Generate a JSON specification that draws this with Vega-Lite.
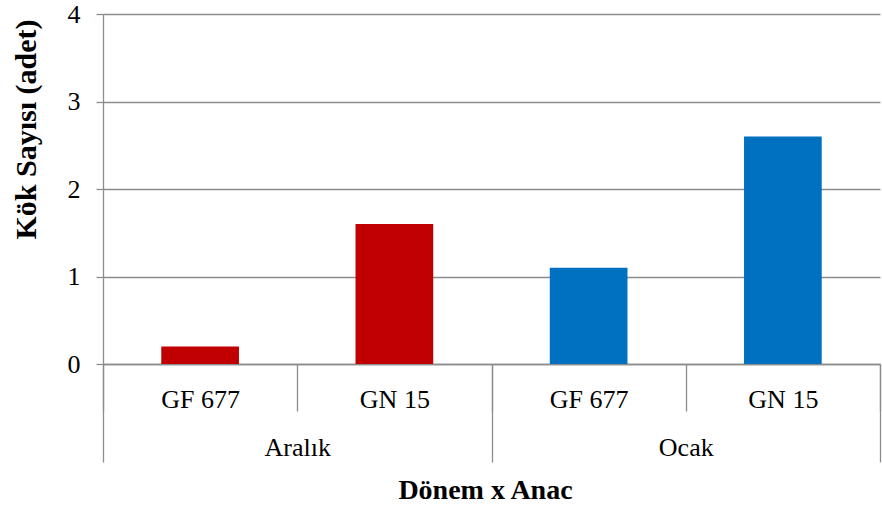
{
  "$schema": "https://vega.github.io/schema/vega-lite/v6.json",
  "width": 777,
  "height": 350,
  "autosize": {"type": "none"},
  "padding": {"left": 103, "top": 14, "right": 2, "bottom": 144},
  "background": "white",
  "config": {"view": {"stroke": null}, "font": "Liberation Serif"},
  "data": {
    "values": [
      {"donem": "Aralık", "anac": "GF 677", "key": "Aralık|GF 677", "value": 0.2},
      {"donem": "Aralık", "anac": "GN 15", "key": "Aralık|GN 15", "value": 1.6},
      {"donem": "Ocak", "anac": "GF 677", "key": "Ocak|GF 677", "value": 1.1},
      {"donem": "Ocak", "anac": "GN 15", "key": "Ocak|GN 15", "value": 2.6}
    ]
  },
  "layer": [
    {
      "mark": {"type": "bar", "width": {"band": 0.4}},
      "encoding": {
        "x": {
          "field": "key",
          "type": "nominal",
          "sort": null,
          "scale": {"paddingInner": 0, "paddingOuter": 0},
          "axis": {
            "orient": "bottom",
            "title": null,
            "labelExpr": "split(datum.label, '|')[1]",
            "labelAngle": 0,
            "labelFont": "Liberation Serif",
            "labelFontSize": 26,
            "labelColor": "black",
            "labelBaseline": "alphabetic",
            "labelPadding": -4,
            "tickBand": "extent",
            "tickSize": 47,
            "tickColor": "#8c8c8c",
            "tickWidth": 1.3,
            "domainColor": "#8c8c8c",
            "domainWidth": 1.3
          }
        },
        "y": {
          "field": "value",
          "type": "quantitative",
          "scale": {"domain": [0, 4]},
          "axis": {
            "values": [0, 1, 2, 3, 4],
            "format": "d",
            "title": "Kök Sayısı (adet)",
            "titleFont": "Liberation Serif",
            "titleFontSize": 30,
            "titleFontWeight": "bold",
            "titleColor": "black",
            "titleAngle": 270,
            "titleBaseline": "middle",
            "titleX": -77,
            "titleY": 115,
            "labelFont": "Liberation Serif",
            "labelFontSize": 26,
            "labelColor": "black",
            "labelPadding": 16,
            "tickSize": 7,
            "tickColor": "#8c8c8c",
            "tickWidth": 1.3,
            "domainColor": "#8c8c8c",
            "domainWidth": 1.3,
            "gridColor": "#8c8c8c",
            "gridWidth": 1.3
          }
        },
        "color": {
          "field": "donem",
          "type": "nominal",
          "scale": {"domain": ["Aralık", "Ocak"], "range": ["#C00000", "#0070C0"]},
          "legend": null
        }
      }
    },
    {
      "mark": {"type": "bar", "opacity": 0},
      "encoding": {
        "x": {
          "field": "donem",
          "type": "nominal",
          "sort": null,
          "scale": {"paddingInner": 0, "paddingOuter": 0},
          "axis": {
            "orient": "bottom",
            "title": "Dönem x Anac",
            "titleFont": "Liberation Serif",
            "titleFontSize": 28,
            "titleFontWeight": "bold",
            "titleColor": "black",
            "titleBaseline": "alphabetic",
            "titleAlign": "center",
            "titleX": 382,
            "titleY": 134,
            "labelAngle": 0,
            "labelFont": "Liberation Serif",
            "labelFontSize": 26,
            "labelColor": "black",
            "labelBaseline": "alphabetic",
            "labelPadding": -7,
            "tickBand": "extent",
            "tickSize": 98,
            "tickColor": "#8c8c8c",
            "tickWidth": 1.3,
            "domain": false
          }
        },
        "y": {"field": "value", "type": "quantitative"}
      }
    }
  ],
  "resolve": {"scale": {"x": "independent"}, "axis": {"x": "independent"}}
}
